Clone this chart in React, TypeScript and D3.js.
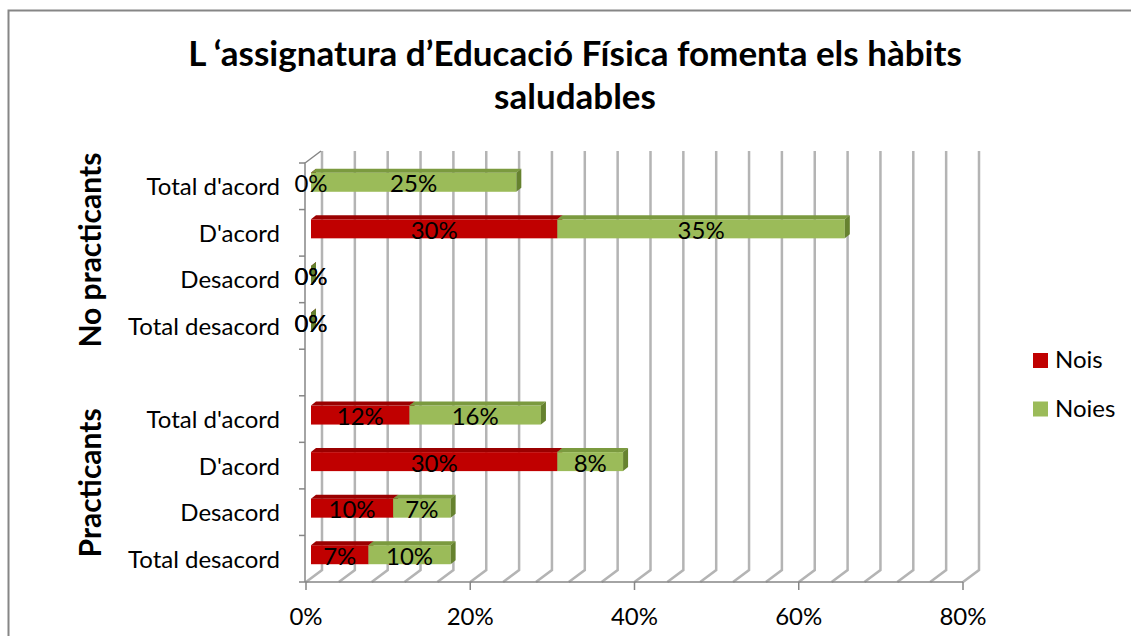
import React, { useEffect, useRef } from "react";
import * as d3 from "d3";

const groups = ["No practicants", "Practicants"];
const answers = ["Total d'acord", "D'acord", "Desacord", "Total desacord"];
const series = ["Nois", "Noies"];
const noisNoPract = [0, 30, 0, 0];
const noiesNoPract = [25, 35, 0, 0];
const noisPract = [12, 30, 10, 7];
const noiesPract = [16, 8, 7, 10];
const xTicks = [0, 20, 40, 60, 80];

const WIDTH = 1131;
const HEIGHT = 636;
const FONT = "Lato, 'Open Sans', sans-serif";
const COLORS = {
  Nois: { front: "#c00000", top: "#9a0000", side: "#800000" },
  Noies: { front: "#9bbb59", top: "#7b9a3f", side: "#66822f" },
};
const WALL = { dx: 16, dy: -12 };
const BAR_OFF = { dx: 5, dy: -4 };
const BAR_DEPTH = { dx: 5, dy: -4 };
const BAR_H = 19;
const SMALL = 24;

const App = () => {
  const svgRef = useRef<SVGSVGElement>(null);

  useEffect(() => {
    const svg = d3.select(svgRef.current);
    svg.selectAll("*").remove();

    // rows: 4 for no practicants, blank, 4 for practicants
    const rows = [
      ...answers.map((a, i) => ({ key: "np" + i, label: a, nois: noisNoPract[i], noies: noiesNoPract[i] })),
      { key: "blank", label: "", nois: null, noies: null },
      ...answers.map((a, i) => ({ key: "p" + i, label: a, nois: noisPract[i], noies: noiesPract[i] })),
    ];

    const x = d3.scaleLinear().domain([0, 80]).range([306, 963]);
    const y = d3
      .scaleBand()
      .domain(rows.map((r) => r.key))
      .range([163, 582])
      .padding(0);

    svg
      .append("rect")
      .attr("x", 8.5)
      .attr("y", 10.5)
      .attr("width", 1200)
      .attr("height", 700)
      .attr("fill", "#fff")
      .attr("stroke", "#868686")
      .attr("stroke-width", 2);

    // title
    const title = svg
      .append("text")
      .attr("font-family", FONT)
      .attr("font-weight", "bold")
      .attr("font-size", 35)
      .attr("text-anchor", "middle");
    title.append("tspan").attr("x", 575).attr("y", 66).text("L ‘assignatura d’Educació Física fomenta els hàbits");
    title.append("tspan").attr("x", 575).attr("y", 109).text("saludables");

    // back wall gridlines + floor
    const minor = d3.range(0, 81, 4);
    const grid = svg.append("g").attr("stroke", "#b4b4b4").attr("stroke-width", 2.5).attr("fill", "none");
    grid
      .selectAll("path")
      .data(minor)
      .join("path")
      .attr("d", (d) => {
        const fx = x(d);
        const bx = fx + WALL.dx;
        return `M${bx},151 L${bx},${582 + WALL.dy} L${fx},582`;
      });

    // left wall / category axis
    const axis = svg.append("g").attr("stroke", "#868686").attr("stroke-width", 1.5).attr("fill", "none");
    axis.append("path").attr("d", `M${x(0) - 1},582 L${x(0) - 1},163 L${x(0) + WALL.dx - 1},151`);
    axis
      .selectAll("line.yt")
      .data([163, ...rows.map((r) => (y(r.key) as number) + y.bandwidth())])
      .join("line")
      .attr("x1", x(0) - 7)
      .attr("x2", x(0) - 1)
      .attr("y1", (d) => d)
      .attr("y2", (d) => d);
    axis.append("line").attr("x1", x(0) - 1).attr("x2", x(80)).attr("y1", 582).attr("y2", 582);
    axis
      .selectAll("line.xt")
      .data(xTicks)
      .join("line")
      .attr("x1", (d) => x(d))
      .attr("x2", (d) => x(d))
      .attr("y1", 582)
      .attr("y2", 590);

    svg
      .append("g")
      .selectAll("text")
      .data(xTicks)
      .join("text")
      .attr("x", (d) => x(d))
      .attr("y", 625)
      .attr("text-anchor", "middle")
      .attr("font-family", FONT)
      .attr("font-size", SMALL)
      .text((d) => d + "%");

    // category labels
    svg
      .append("g")
      .selectAll("text")
      .data(rows)
      .join("text")
      .attr("x", 280)
      .attr("y", (d) => (y(d.key) as number) + y.bandwidth() / 2 + 9)
      .attr("text-anchor", "end")
      .attr("font-family", FONT)
      .attr("font-size", SMALL)
      .text((d) => d.label);

    // group labels
    const groupCenters = [
      ((y("np0") as number) + (y("np3") as number) + y.bandwidth()) / 2 - 6,
      ((y("p0") as number) + (y("p3") as number) + y.bandwidth()) / 2 - 6,
    ];
    svg
      .append("g")
      .selectAll("text")
      .data(groups)
      .join("text")
      .attr("transform", (d, i) => `translate(101,${groupCenters[i]}) rotate(-90)`)
      .attr("text-anchor", "middle")
      .attr("font-family", FONT)
      .attr("font-weight", "bold")
      .attr("font-size", 30)
      .text((d) => d);

    // bars
    const bars = svg.append("g");
    const labels: { x: number; y: number; t: string }[] = [];
    rows.forEach((r) => {
      if (r.nois === null) return;
      const yTop = (y(r.key) as number) + y.bandwidth() / 2 + BAR_OFF.dy - BAR_H / 2;
      let start = 0;
      (["Nois", "Noies"] as const).forEach((s) => {
        const v = (s === "Nois" ? r.nois : r.noies) as number;
        const x0 = x(start) + BAR_OFF.dx;
        const x1 = x(start + v) + BAR_OFF.dx;
        const c = COLORS[s];
        const { dx, dy } = BAR_DEPTH;
        bars.append("rect").attr("x", x0).attr("y", yTop).attr("width", x1 - x0).attr("height", BAR_H).attr("fill", c.front);
        bars
          .append("path")
          .attr("d", `M${x0},${yTop} L${x0 + dx},${yTop + dy} L${x1 + dx},${yTop + dy} L${x1},${yTop} Z`)
          .attr("fill", c.top);
        bars
          .append("path")
          .attr("d", `M${x1},${yTop} L${x1 + dx},${yTop + dy} L${x1 + dx},${yTop + dy + BAR_H} L${x1},${yTop + BAR_H} Z`)
          .attr("fill", c.side);
        labels.push({ x: (x0 + x1) / 2, y: yTop + BAR_H / 2 + 10, t: v + "%" });
        start += v;
      });
    });

    svg
      .append("g")
      .selectAll("text")
      .data(labels)
      .join("text")
      .attr("x", (d) => d.x)
      .attr("y", (d) => d.y)
      .attr("text-anchor", "middle")
      .attr("font-family", FONT)
      .attr("font-size", SMALL)
      .text((d) => d.t);

    // legend
    const legend = svg
      .append("g")
      .selectAll("g")
      .data(series)
      .join("g")
      .attr("transform", (d, i) => `translate(1033,${353 + i * 48.5})`);
    legend
      .append("rect")
      .attr("width", 15)
      .attr("height", 15)
      .attr("fill", (d) => COLORS[d as "Nois" | "Noies"].front);
    legend
      .append("text")
      .attr("x", 22)
      .attr("y", 15)
      .attr("font-family", FONT)
      .attr("font-size", SMALL)
      .text((d) => d);
  }, []);

  return (
    <svg
      ref={svgRef}
      width={WIDTH}
      height={HEIGHT}
      style={{ position: "absolute", left: 0, top: 0, background: "#fff" }}
    ></svg>
  );
};

export default App;
